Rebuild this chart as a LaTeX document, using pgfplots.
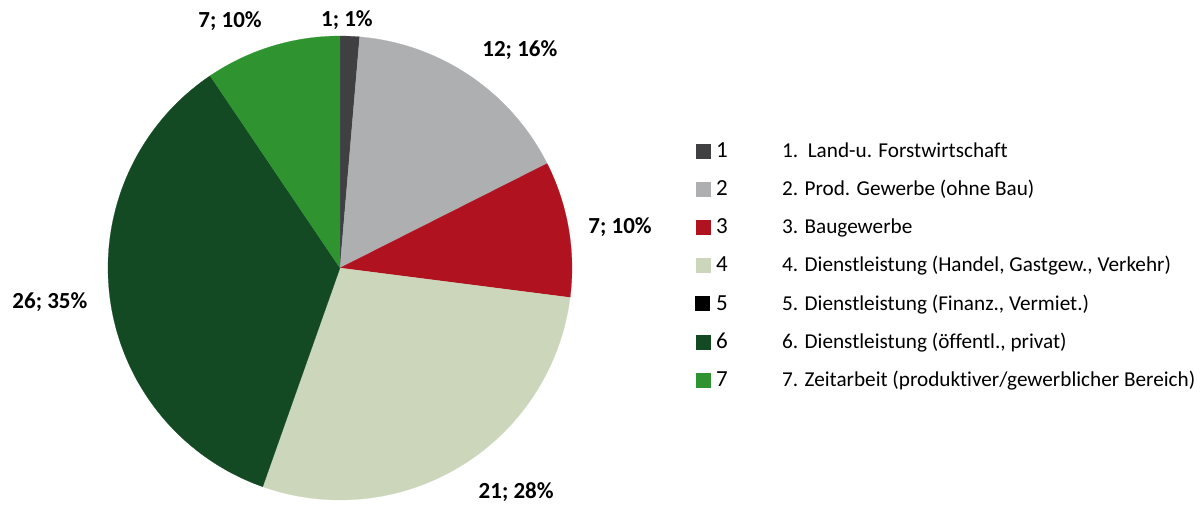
\documentclass[border=0pt]{standalone}
\usepackage{pgfplots}
\pgfplotsset{compat=1.18}
\usepackage{pgfplotstable}
\usepgfplotslibrary{polar}
\usepackage{fontspec}
\setmainfont{Carlito}[Ligatures={NoCommon}]

\definecolor{c1}{HTML}{404042}
\definecolor{c2}{HTML}{AEAFB1}
\definecolor{c3}{HTML}{B0121F}
\definecolor{c4}{HTML}{CCD6BB}
\definecolor{c5}{HTML}{000000}
\definecolor{c6}{HTML}{134A24}
\definecolor{c7}{HTML}{2F9330}

% counts per sector (sector 5 has 0)
\def\nA{1}\def\nB{12}\def\nC{7}\def\nD{21}\def\nE{0}\def\nF{26}\def\nG{7}
\pgfmathsetmacro{\tot}{\nA+\nB+\nC+\nD+\nE+\nF+\nG}
\pgfmathsetmacro{\aA}{90}
\pgfmathsetmacro{\aB}{\aA-\nA*360/\tot}
\pgfmathsetmacro{\aC}{\aB-\nB*360/\tot}
\pgfmathsetmacro{\aD}{\aC-\nC*360/\tot}
\pgfmathsetmacro{\aE}{\aD-\nD*360/\tot}
\pgfmathsetmacro{\aF}{\aE-\nE*360/\tot}
\pgfmathsetmacro{\aG}{\aF-\nF*360/\tot}
\pgfmathsetmacro{\aH}{\aG-\nG*360/\tot}

\newcommand{\lnum}[1]{\makebox[33pt][l]{\fontsize{11.5}{13}\selectfont #1}}

\begin{document}
\begin{tikzpicture}
\useasboundingbox (0,0) rectangle (600pt,252pt);
\begin{polaraxis}[
  at={(170pt,118pt)}, anchor=center,
  width=232pt, scale only axis,
  hide axis,
  ymin=0, ymax=1,
  enlargelimits=false,
  clip=false,
  legend image code/.code={\fill[#1] (0pt,-3.5pt) rectangle (7pt,3.5pt);},
  legend style={draw=none, fill=none, at={(axis description cs:1.265,0.771)}, anchor=north west,
    font=\fontsize{10.6}{12.5}\selectfont, row sep=9.9pt, inner sep=0pt,
    nodes={inner xsep=3pt, inner ysep=0pt}},
  legend cell align=left,
]
\addplot[fill=c1, draw=c1, line width=0.1pt, domain=\aB:\aA, samples=6] {1} -- (axis cs:0,0) -- cycle;
\addplot[fill=c2, draw=c2, line width=0.1pt, domain=\aC:\aB, samples=60] {1} -- (axis cs:0,0) -- cycle;
\addplot[fill=c3, draw=c3, line width=0.1pt, domain=\aD:\aC, samples=40] {1} -- (axis cs:0,0) -- cycle;
\addplot[fill=c4, draw=c4, line width=0.1pt, domain=\aE:\aD, samples=100] {1} -- (axis cs:0,0) -- cycle;
\addlegendimage{fill=c5, draw=c5}
\addplot[fill=c6, draw=c6, line width=0.1pt, domain=\aG:\aF, samples=120] {1} -- (axis cs:0,0) -- cycle;
\addplot[fill=c7, draw=c7, line width=0.1pt, domain=\aH:\aG, samples=40] {1} -- (axis cs:0,0) -- cycle;
\legend{
  \lnum{1}1.~~Land-u. Forstwirtschaft,
  \lnum{2}2. Prod. Gewerbe (ohne Bau),
  \lnum{3}3. Baugewerbe,
  \lnum{4}4. Dienstleistung (Handel{,} Gastgew.{,} Verkehr),
  \lnum{5}5. Dienstleistung (Finanz.{,} Vermiet.),
  \lnum{6}6. Dienstleistung (öffentl.{,} privat),
  \lnum{7}7. Zeitarbeit (produktiver/gewerblicher Bereich)}
\begin{scope}[every node/.style={font=\bfseries\fontsize{11.5}{13}\selectfont}]
\node at (axis cs:88.4,1.069) {1; 1\%};
\node at (axis cs:50.5,1.219) {12; 16\%};
\node at (axis cs:8.3,1.22) {7; 10\%};
\node at (axis cs:-51.8,1.228) {21; 28\%};
\node at (axis cs:186.7,1.259) {26; 35\%};
\node at (axis cs:114,1.165) {7; 10\%};
\end{scope}
\end{polaraxis}
\end{tikzpicture}
\end{document}
